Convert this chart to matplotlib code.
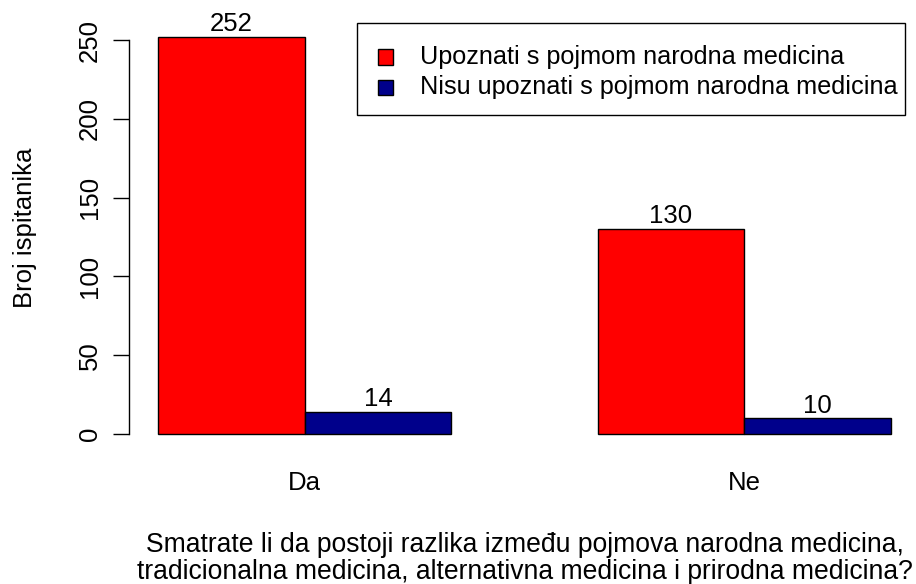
import matplotlib.pyplot as plt
import matplotlib.patches as mpatches

plt.rcParams['font.family'] = ['Liberation Sans', 'DejaVu Sans']

# data
categories = ['Da', 'Ne']
upoznati = [252, 130]
nisu_upoznati = [14, 10]
series_names = ['Upoznati s pojmom narodna medicina',
                'Nisu upoznati s pojmom narodna medicina']
colors = ['#FF0000', '#00008B']
y_ticks = [0, 50, 100, 150, 200, 250]

W, H = 916, 584
FS = 18.5
fig = plt.figure(figsize=(W / 100, H / 100), dpi=100)


def fx(px):
    return px / W


def fy(py):
    return 1 - py / H


# plot region in pixels (R style: 4% padding around the data range)
left, right, top, bottom = 129, 920, 21, 450
ax = fig.add_axes([fx(left), fy(bottom), (right - left) / W, (bottom - top) / H])

# R barplot beside=TRUE: bars at [1,2],[2,3] and [4,5],[5,6]
red_x = [1.5 + 3 * i for i in range(len(categories))]
blue_x = [2.5 + 3 * i for i in range(len(categories))]
ax.bar(red_x, upoznati, width=1, color=colors[0], edgecolor='black', linewidth=1)
ax.bar(blue_x, nisu_upoznati, width=1, color=colors[1], edgecolor='black', linewidth=1)

for x, v in zip(red_x + blue_x, upoznati + nisu_upoznati):
    ax.text(x, v + 0.5, str(v), ha='center', va='bottom', fontsize=FS)

ax.set_xlim(0.8, 6.2)
ax.set_ylim(-10.08, 262.08)

for s in ['top', 'right', 'bottom']:
    ax.spines[s].set_visible(False)
ax.spines['left'].set_bounds(0, 250)
ax.spines['left'].set_linewidth(1)

ax.set_yticks(y_ticks)
ax.set_yticklabels([str(t) for t in y_ticks], rotation=90, va='center', fontsize=FS)
ax.tick_params(axis='y', length=11.5, width=1, pad=8)
ax.set_xticks([])

for x, c in zip([2, 5], categories):
    ax.text(x, -31, c, ha='center', va='center', fontsize=FS)

fig.text(fx(25), fy(228), 'Broj ispitanika', rotation=90,
         ha='center', va='center', fontsize=FS)

xc = fx((left + right) / 2)
fig.text(xc, fy(545), 'Smatrate li da postoji razlika između pojmova narodna medicina,',
         ha='center', va='center', fontsize=19.1)
fig.text(xc, fy(572), 'tradicionalna medicina, alternativna medicina i prirodna medicina?',
         ha='center', va='center', fontsize=19.1)

# legend box
fig.patches.append(mpatches.Rectangle((fx(357), fy(115)), (905 - 357) / W, (115 - 23) / H,
                                      transform=fig.transFigure, facecolor='white',
                                      edgecolor='black', linewidth=1))
for i, (name, c) in enumerate(zip(series_names, colors)):
    yc = 57 + 30 * i
    fig.patches.append(mpatches.Rectangle((fx(378), fy(yc + 7.5)), 15 / W, 15 / H,
                                          transform=fig.transFigure, facecolor=c,
                                          edgecolor='black', linewidth=1))
    fig.text(fx(420), fy(yc), name, ha='left', va='center', fontsize=18.2)

fig.savefig('out.png', dpi=100)
